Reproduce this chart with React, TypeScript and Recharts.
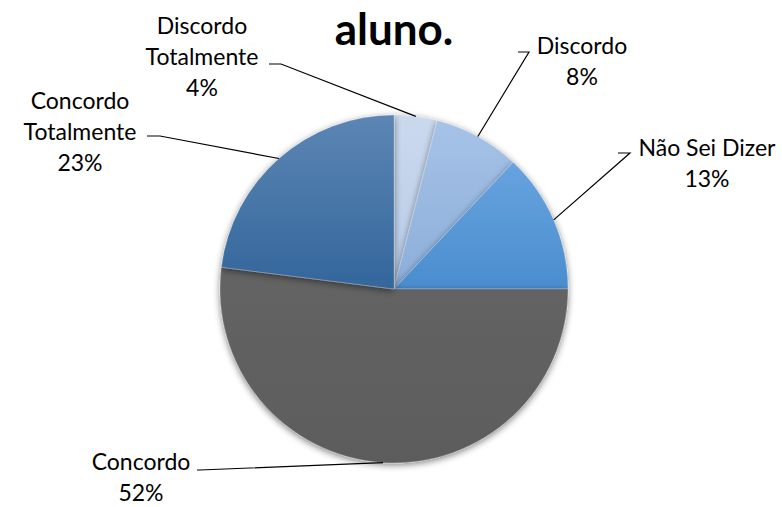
import { Cell, Pie, PieChart } from "recharts";

const categories = ["Discordo Totalmente", "Discordo", "Não Sei Dizer", "Concordo", "Concordo Totalmente"];
const shares = [4, 8, 13, 52, 23];
const titleText = "aluno.";

// top / bottom gradient stops per slice
const COLORS: [string, string][] = [
  ["#cbd9ee", "#b7cbe6"],
  ["#a6c2e7", "#8caed9"],
  ["#67a3df", "#4a8dce"],
  ["#646464", "#5c5c5c"],
  ["#5c86b4", "#33669b"],
];

// label layout: text lines centred at tx, first line at ty; leader elbow (ex, ey), horizontal to hx
const LABELS = [
  { lines: ["Discordo", "Totalmente"], tx: 202, ty: 25, ex: 281, ey: 64, hx: 269 },
  { lines: ["Discordo"], tx: 582, ty: 45, ex: 529, ey: 52, hx: 518 },
  { lines: ["Não Sei Dizer"], tx: 707, ty: 147, ex: 630, ey: 153, hx: 618 },
  { lines: ["Concordo"], tx: 141, ty: 461, ex: 200, ey: 470, hx: 197 },
  { lines: ["Concordo", "Totalmente"], tx: 80, ty: 100, ex: 160, ey: 136, hx: 147 },
];

const data = categories.map((name, i) => ({ name, value: shares[i] }));
const RAD = Math.PI / 180;
const FONT = "Lato, 'Open Sans', sans-serif";

function renderLabel(props: any) {
  const { cx, cy, midAngle, outerRadius, index, value } = props;
  const cfg = LABELS[index];
  const px = cx + outerRadius * Math.cos(-midAngle * RAD);
  const py = cy + outerRadius * Math.sin(-midAngle * RAD);
  const lines = [...cfg.lines, `${value}%`];
  return (
    <g>
      <polyline points={`${px},${py} ${cfg.ex},${cfg.ey} ${cfg.hx},${cfg.ey}`} fill="none" stroke="#000" strokeWidth={1.2} />
      {lines.map((t, i) => (
        <text key={i} x={cfg.tx} y={cfg.ty + i * 31} textAnchor="middle" dominantBaseline="central" fontSize={23} fontFamily={FONT} fill="#000">
          {t}
        </text>
      ))}
    </g>
  );
}

export default function App() {
  return (
    <div style={{ position: "relative", width: 782, height: 507, background: "#fff" }}>
      <style>{`body{margin:0}`}</style>
      <PieChart width={782} height={507} margin={{ top: 0, right: 0, bottom: 0, left: 0 }}>
        <defs>
          {COLORS.map(([a, b], i) => (
            <linearGradient key={i} id={`g${i}`} x1="0" y1="0" x2="0" y2="1">
              <stop offset="0%" stopColor={a} />
              <stop offset="100%" stopColor={b} />
            </linearGradient>
          ))}
          <filter id="soft" x="-20%" y="-20%" width="140%" height="140%">
            <feGaussianBlur in="SourceAlpha" stdDeviation="3.5" />
            <feOffset dx="0" dy="2" result="blur" />
            <feComponentTransfer>
              <feFuncA type="linear" slope="0.5" />
            </feComponentTransfer>
            <feMerge>
              <feMergeNode />
              <feMergeNode in="SourceGraphic" />
            </feMerge>
          </filter>
        </defs>
        <Pie
          data={data}
          dataKey="value"
          nameKey="name"
          cx={394}
          cy={289}
          outerRadius={174}
          startAngle={90}
          endAngle={-270}
          stroke="rgba(255,255,255,0.35)"
          strokeWidth={0.6}
          label={renderLabel}
          labelLine={false}
          isAnimationActive={false}
          style={{ filter: "url(#soft)" }}
        >
          {data.map((d, i) => (
            <Cell key={d.name} fill={`url(#g${i})`} />
          ))}
        </Pie>
      </PieChart>
      <div
        style={{
          position: "absolute",
          left: 0,
          top: 6,
          width: 782,
          textAlign: "center",
          fontFamily: FONT,
          fontWeight: 700,
          fontSize: 44,
          lineHeight: "44px",
          paddingLeft: 6,
          boxSizing: "border-box",
        }}
      >
        {titleText}
      </div>
    </div>
  );
}
